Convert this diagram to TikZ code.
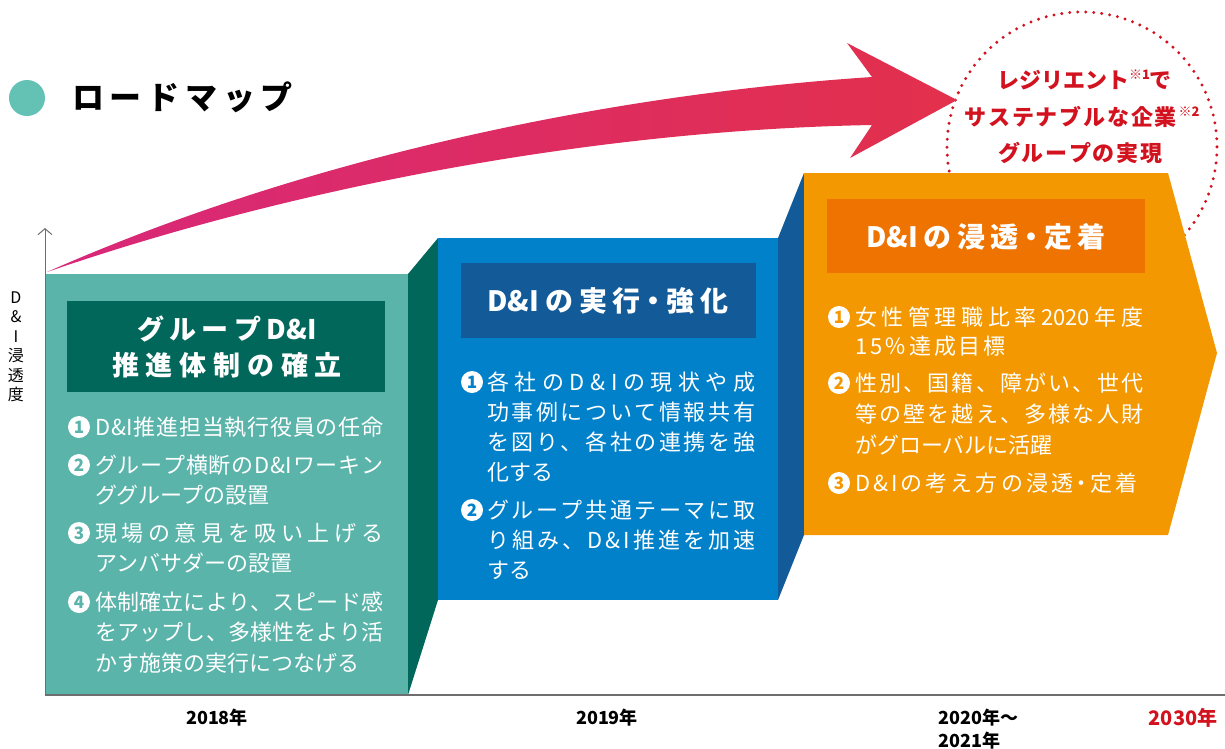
\documentclass[tikz,border=0pt]{standalone}
\usepackage{fontspec}
\setmainfont{Noto Sans CJK JP}
\usetikzlibrary{arrows.meta}
\definecolor{teal1}{HTML}{5AB4AA}
\definecolor{teal2}{HTML}{00675A}
\definecolor{blue1}{HTML}{0081CA}
\definecolor{blue2}{HTML}{135A98}
\definecolor{ora1}{HTML}{F39800}
\definecolor{ora2}{HTML}{EE7300}
\definecolor{mint}{HTML}{63C2B4}
\definecolor{rd}{HTML}{D2121E}
\definecolor{axisgray}{HTML}{6E6E6E}
\definecolor{pinkL}{HTML}{D8287A}
\definecolor{pinkR}{HTML}{E2304C}
\newcommand\fsz[1]{\fontsize{#1}{#1}\selectfont}
\newcommand\nd{\makebox[0.5em]{・}}
\makeatletter
\newcommand\js[2]{\makebox[#1][s]{\let\jsep\relax\@tfor\jx:=#2\do{\jsep\jx\let\jsep\hfil}}}
\makeatother
\tikzset{
  item/.style={anchor=west, inner sep=0pt, text=white, font=\fsz{22}},
  num/.style={circle, fill=white, minimum size=22pt, inner sep=0pt, font=\bfseries\fsz{17}},
  head/.style={inner sep=0pt, text=white, font=\bfseries\fsz{28}},
  year/.style={inner sep=0pt, font=\bfseries\fsz{18}},
  ctext/.style={inner sep=0pt, text=rd, font=\bfseries\fsz{22}}
}
\begin{document}
\begin{tikzpicture}[x=1pt,y=-1pt]
\useasboundingbox (0,0) rectangle (1225,748);
% title
\fill[mint] (27,98) circle[radius=18];
\node[inner sep=0pt, font=\bfseries\fsz{32}] (title) at (182.5,97) {\js{221pt}{ロードマップ}};
% steps
\fill[teal1] (45,274) rectangle (408,695);
\fill[teal2] (408,274) -- (438,238) -- (438,600) -- (408,695) -- cycle;
\fill[blue1] (438,238) rectangle (778,600);
\fill[blue2] (778,238) -- (804,173) -- (804,535) -- (778,600) -- cycle;
\draw[rd, line width=3.3pt, dash pattern=on 0pt off 8pt, line cap=round] (1082,147) circle[radius=135];
\fill[ora1] (804,173) -- (1168,173) -- (1217,353) -- (1168,535) -- (804,535) -- cycle;
% headers
\fill[teal2] (67,301) rectangle (385,392);
\fill[blue2] (461,263) rectangle (756,338);
\fill[ora2] (827,199) rectangle (1145,273);
\node[head, font=\bfseries\fsz{27}] (h1a) at (227,329) {\js{180pt}{グループ{D\&I}}};
\node[head, font=\bfseries\fsz{27}] (h1b) at (227,365) {\js{230pt}{推進体制の確立}};
\node[head] (h2) at (608,301) {\js{241pt}{{D\&I}の実行\nd 強化}};
\node[head] (h3) at (986,237) {\js{239pt}{{D\&I}の浸透\nd 定着}};
% teal items
\node[num, text=teal1] (t1) at (79,427) {1};
\node[item] (t1a) at (95,427) {\js{288pt}{D\&I推進担当執行役員の任命}};
\node[num, text=teal1] (t2) at (79,465) {2};
\node[item] (t2a) at (95,465) {\js{288pt}{グループ横断のD\&Iワーキン}};
\node[item] (t2b) at (95,495) {ググループの設置};
\node[num, text=teal1] (t3) at (79,533) {3};
\node[item] (t3a) at (95,533) {\js{288pt}{現場の意見を吸い上げる}};
\node[item] (t3b) at (95,563) {アンバサダーの設置};
\node[num, text=teal1] (t4) at (79,602) {4};
\node[item] (t4a) at (95,602) {\js{288pt}{体制確立により、スピード感}};
\node[item] (t4b) at (95,632) {\js{288pt}{をアップし、多様性をより活}};
\node[item] (t4c) at (95,663) {かす施策の実行につなげる};
% blue items
\node[num, text=blue1] (b1) at (472,382) {1};
\node[item] (b1a) at (487,382) {\js{268pt}{各社のD\&Iの現状や成}};
\node[item] (b1b) at (487,412) {\js{268pt}{功事例について情報共有}};
\node[item] (b1c) at (487,442) {\js{268pt}{を図り、各社の連携を強}};
\node[item] (b1d) at (487,472) {化する};
\node[num, text=blue1] (b2) at (472,510) {2};
\node[item] (b2a) at (487,510) {\js{268pt}{グループ共通テーマに取}};
\node[item] (b2b) at (487,540) {\js{268pt}{り組み、D\&I推進を加速}};
\node[item] (b2c) at (487,570) {する};
% orange items
\node[num, text=ora1] (o1) at (839,317) {1};
\node[item] (o1a) at (855,317) {\js{288pt}{女性管理職比率{2020}年度}};
\node[item] (o1b) at (855,346) {\js{150pt}{15％達成目標}};
\node[num, text=ora1] (o2) at (839,383) {2};
\node[item] (o2a) at (855,383) {\js{288pt}{性別、国籍、障がい、世代}};
\node[item] (o2b) at (855,414) {\js{288pt}{等の壁を越え、多様な人財}};
\node[item] (o2c) at (855,445) {がグローバルに活躍};
\node[num, text=ora1] (o3) at (839,483) {3};
\node[item] (o3a) at (855,483) {\js{282pt}{D\&Iの考え方の浸透\nd 定着}};
% pink arrow
\shade[left color=pinkL, right color=pinkR]
  (47,272) .. controls (300,160) and (600,95) .. (872,77)
  -- (847,43) -- (957,100) -- (850,158) -- (872,125)
  .. controls (600,130) and (300,185) .. (47,272) -- cycle;
% circle text
\node[ctext] (c1) at (1080,80) {\js{166pt}{レジリエント{\raisebox{0.42em}{\fsz{13}※1}}で}};
\node[ctext] (c2) at (1082,117) {\js{235pt}{サステナブルな企業{\raisebox{0.42em}{\fsz{13}※2}}}};
\node[ctext] (c3) at (1080,153) {\js{164pt}{グループの実現}};
% axes
\coordinate (o) at (45,695);
\coordinate (ytop) at (45,228);
\coordinate (xend) at (1225,695);
\draw[axisgray, line width=1.3pt] (o) -- (xend);
\draw[axisgray, line width=1pt, -{Straight Barb[length=6pt,width=14pt]}] (o) -- (ytop);
\node[inner sep=0pt, align=center, font=\fsz{16}, execute at begin node=\setlength{\baselineskip}{19.5pt}] (ylab) at (16,347) {D\\\&\\I\\浸\\透\\度};
% years
\node[year] (y1) at (217,718) {2018年};
\node[year] (y2) at (607,718) {2019年};
\node[year, anchor=west] (y3) at (938,718) {2020年～};
\node[year, anchor=west] (y4) at (938,741) {2021年};
\node[year, text=rd, font=\bfseries\fsz{20}] (y5) at (1183,718) {2030年};
\end{tikzpicture}
\end{document}
